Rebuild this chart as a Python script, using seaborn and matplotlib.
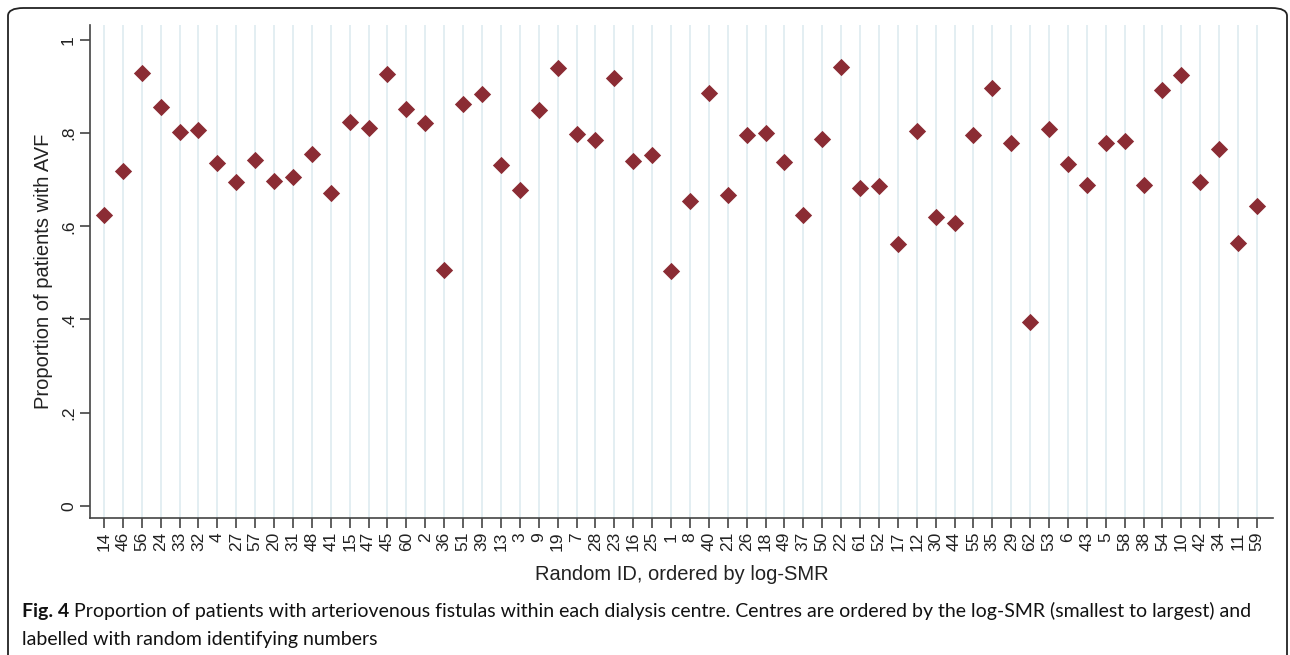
import numpy as np
import pandas as pd
import matplotlib
matplotlib.use("Agg")
import matplotlib.pyplot as plt
from matplotlib.patches import FancyBboxPatch
import seaborn as sns

# centres ordered by log-SMR, labelled with random IDs
random_ids = ["14", "46", "56", "24", "33", "32", "4", "27", "57", "20", "31", "48", "41",
              "15", "47", "45", "60", "2", "36", "51", "39", "13", "3", "9", "19", "7",
              "28", "23", "16", "25", "1", "8", "40", "21", "26", "18", "49", "37", "50",
              "22", "61", "52", "17", "12", "30", "44", "55", "35", "29", "62", "53", "6",
              "43", "5", "58", "38", "54", "10", "42", "34", "11", "59"]
prop_avf = [0.624, 0.719, 0.929, 0.856, 0.803, 0.807, 0.736, 0.695, 0.742, 0.697, 0.706,
            0.755, 0.672, 0.824, 0.811, 0.927, 0.852, 0.822, 0.506, 0.863, 0.884, 0.732,
            0.678, 0.850, 0.940, 0.798, 0.785, 0.918, 0.740, 0.753, 0.504, 0.655, 0.886,
            0.667, 0.796, 0.800, 0.738, 0.624, 0.788, 0.942, 0.682, 0.687, 0.562, 0.805,
            0.620, 0.607, 0.796, 0.897, 0.779, 0.395, 0.809, 0.734, 0.689, 0.779, 0.783,
            0.689, 0.893, 0.925, 0.695, 0.766, 0.564, 0.644]
y_ticks = [0, 0.2, 0.4, 0.6, 0.8, 1]
y_ticklabels = ["0", ".2", ".4", ".6", ".8", "1"]

df = pd.DataFrame({"rid": random_ids, "prop": prop_avf})

sns.set_theme(style="white")
plt.rcParams["font.family"] = ["Liberation Sans", "DejaVu Sans"]

fig = plt.figure(figsize=(12.9, 6.55), dpi=100)
ax = fig.add_axes([90 / 1290, 1 - 518 / 655, (1273 - 90) / 1290, (518 - 25) / 655])

sns.stripplot(data=df, x="rid", y="prop", order=random_ids, jitter=False,
              marker="D", s=8.8, color="#8b2c34", linewidth=0, ax=ax, zorder=3)

ax.set_xlim(-0.74, 61.85)
ax.set_ylim(-0.026, 1.032)
ax.set_yticks(y_ticks)
ax.set_yticklabels(y_ticklabels, rotation=90, va="center")
ax.tick_params(axis="x", labelrotation=90)
ax.tick_params(direction="out", length=7, width=1.2, color="#444444",
               labelsize=12.5, labelcolor="#222222", pad=3, left=True, bottom=True)

ax.xaxis.grid(True, color="#e3eef2", linewidth=1.4)
ax.yaxis.grid(False)
ax.set_axisbelow(True)
for side in ["top", "right"]:
    ax.spines[side].set_visible(False)
for side in ["left", "bottom"]:
    ax.spines[side].set_color("#444444")
    ax.spines[side].set_linewidth(1.2)

ax.set_xlabel("Random ID, ordered by log-SMR", fontsize=14.5, color="#222222", labelpad=10)
ax.set_ylabel("Proportion of patients with AVF", fontsize=14.5, color="#222222", labelpad=6)

# rounded card border
border = FancyBboxPatch((8 / 1290, -0.05), 1279 / 1290, 1.05 - 8 / 655,
                        boxstyle="round,pad=0,rounding_size=0.012",
                        transform=fig.transFigure, fill=False, edgecolor="#222222",
                        linewidth=1.3, clip_on=False)
fig.patches.append(border)

cap_font = ["Lato", "DejaVu Sans"]
cap_size = 14
t1 = fig.text(22 / 1290, 1 - 617 / 655, "Fig. 4", fontsize=cap_size, fontweight="bold",
              family=cap_font, color="#111111", va="baseline")
ax.annotate(" Proportion of patients with arteriovenous fistulas within each dialysis centre. "
            "Centres are ordered by the log-SMR (smallest to largest) and",
            xy=(1, 0), xycoords=t1, va="bottom", ha="left", fontsize=cap_size,
            family=cap_font, color="#111111", annotation_clip=False)
fig.text(22 / 1290, 1 - 645 / 655, "labelled with random identifying numbers", fontsize=cap_size,
         family=cap_font, color="#111111", va="baseline")

fig.savefig("out.png", dpi=100)
